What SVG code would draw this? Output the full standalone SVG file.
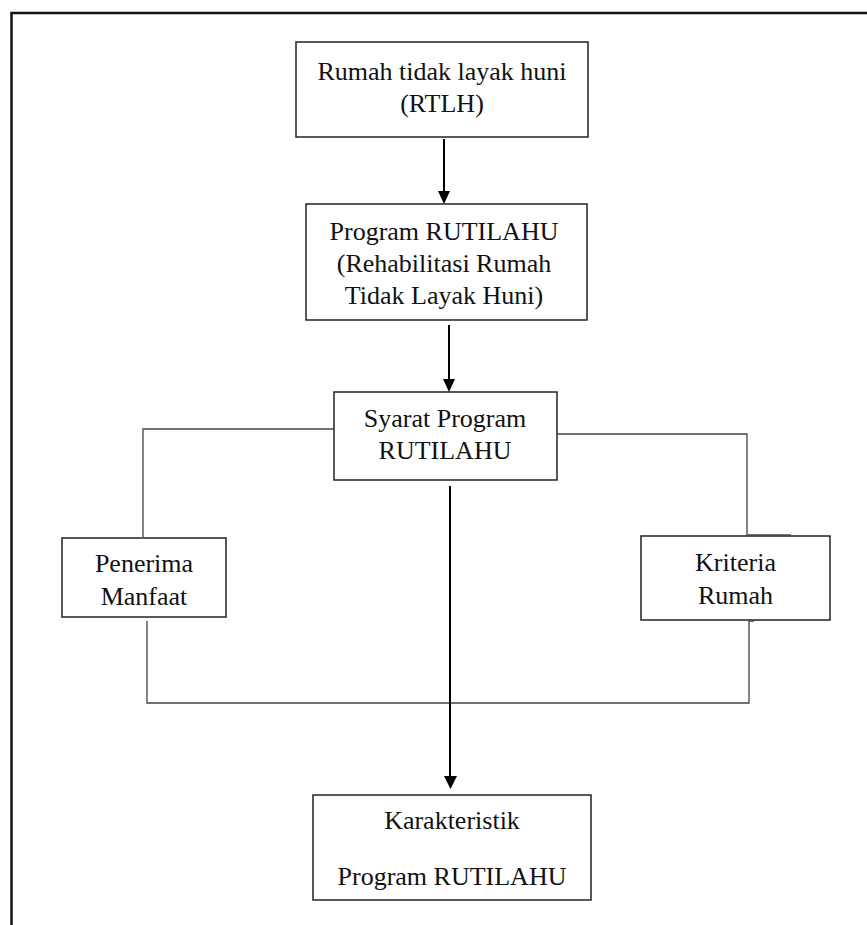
<svg xmlns="http://www.w3.org/2000/svg" width="867" height="925" viewBox="0 0 867 925">
<style>
.box{fill:#fff;stroke:#222;stroke-width:1.5}
.lbl{font-family:"Liberation Serif","Times New Roman",serif;font-size:26px;fill:#111;text-anchor:middle}
.conn{fill:none;stroke:#444;stroke-width:1.3}
.arr{fill:none;stroke:#000;stroke-width:2}
.head{fill:#000}
.frame{fill:none;stroke:#111;stroke-width:2.5}
</style>
<rect width="867" height="925" fill="#fff"/>
<path class="frame" d="M11.5,925 L11.5,13 L867,13"/>
<g id="node-rtlh">
<rect class="box" x="296" y="42" width="292" height="95"/>
<text class="lbl" x="442" y="80">Rumah tidak layak huni</text>
<text class="lbl" x="442" y="112">(RTLH)</text>
</g>
<g id="node-program">
<rect class="box" x="306" y="204" width="281" height="116"/>
<text class="lbl" x="444" y="240">Program RUTILAHU</text>
<text class="lbl" x="444" y="272">(Rehabilitasi Rumah</text>
<text class="lbl" x="444" y="304">Tidak Layak Huni)</text>
</g>
<g id="node-syarat">
<rect class="box" x="334" y="392" width="223" height="88"/>
<text class="lbl" x="445" y="427">Syarat Program</text>
<text class="lbl" x="445" y="459">RUTILAHU</text>
</g>
<g id="node-penerima">
<rect class="box" x="62" y="538" width="164" height="79"/>
<text class="lbl" x="144" y="572">Penerima</text>
<text class="lbl" x="144" y="605">Manfaat</text>
</g>
<g id="node-kriteria">
<rect class="box" x="641" y="536" width="189" height="84"/>
<text class="lbl" x="735.5" y="571">Kriteria</text>
<text class="lbl" x="735.5" y="604">Rumah</text>
</g>
<g id="node-karakteristik">
<rect class="box" x="313" y="795" width="278" height="105"/>
<text class="lbl" x="452" y="829">Karakteristik</text>
<text class="lbl" x="452" y="885">Program RUTILAHU</text>
</g>
<g id="connectors">
<path class="conn" d="M334,429 L143,429 L143,537"/>
<path class="conn" d="M557,434 L747,434 L747,536 M747,535 L791,535"/>
<path class="conn" d="M147,621 L147,703 L749,703 L749,621 L754,621"/>
<line class="arr" x1="444" y1="139" x2="444" y2="192"/>
<path class="head" d="M438,191 L450,191 L444,204 Z"/>
<line class="arr" x1="449" y1="325" x2="449" y2="380"/>
<path class="head" d="M443,379 L455,379 L449,392 Z"/>
<line class="arr" x1="450" y1="486" x2="450" y2="777"/>
<path class="head" d="M444,776 L457,776 L450.5,789 Z"/>
</g>
</svg>
